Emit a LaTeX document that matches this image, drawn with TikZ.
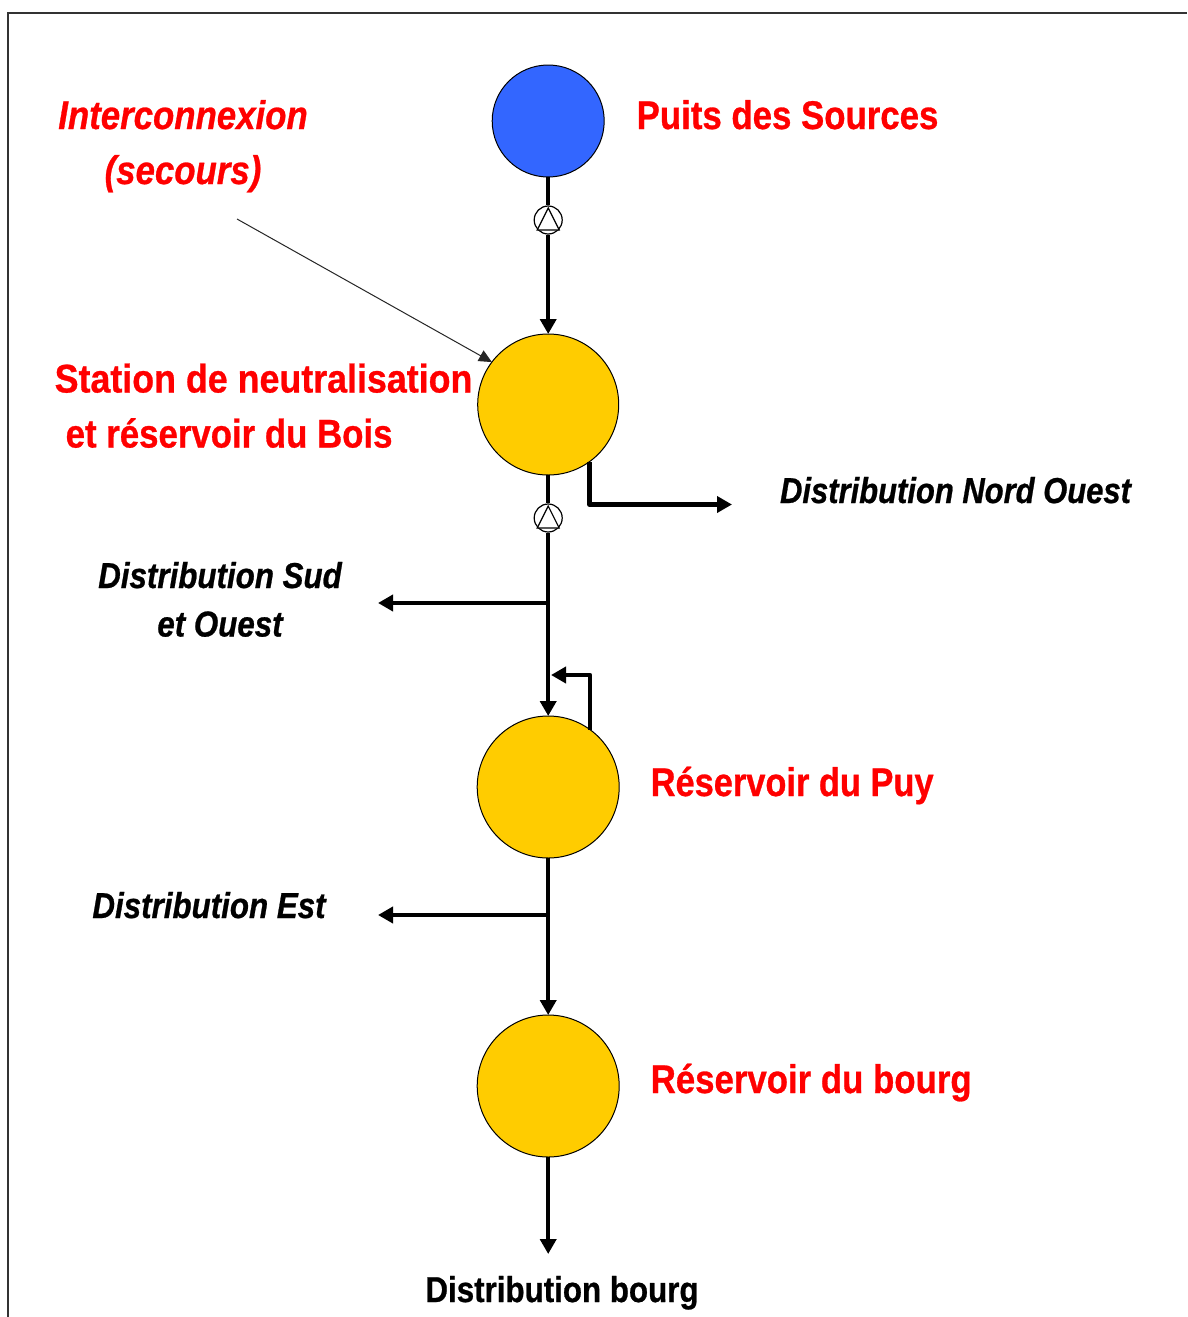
\documentclass[tikz,border=0pt]{standalone}
\usepackage{fontspec}
\usetikzlibrary{arrows.meta}
\setmainfont{Liberation Sans}
\newfontfamily\lblfont[FakeStretch=0.87,FakeBold=0.7]{Liberation Sans}
\newfontfamily\widefont[FakeStretch=0.895,FakeBold=0.7]{Liberation Sans}
\newfontfamily\narrowfont[FakeStretch=0.86,FakeBold=0.7]{Liberation Sans}
\definecolor{srcblue}{HTML}{3366FF}
\definecolor{resorange}{HTML}{FFCC00}
\definecolor{lblred}{HTML}{FF0000}
\tikzset{
  x=1pt,y=-1pt,
  res/.style={circle,draw=black,line width=1pt,fill=resorange,minimum size=142pt,inner sep=0pt,outer sep=0pt},
  src/.style={res,fill=srcblue,minimum size=112pt},
  pump/.style={circle,draw=black,line width=1.2pt,fill=white,minimum size=28pt,inner sep=0pt,outer sep=1pt},
  pumptri/.style={line width=1.2pt,draw=black,fill=white},
  pipe/.style={line width=4.5pt,draw=black,line join=round},
  flow/.style={pipe,-{Triangle[length=15pt,width=16pt]}},
  thin arrow/.style={line width=1pt,draw=black!85,-{Triangle[length=13pt,width=12pt]}},
  redlbl/.style={anchor=base west,inner sep=0pt,text=lblred,font=\lblfont\fontsize{40}{40}\selectfont\bfseries},
  redwide/.style={redlbl,font=\widefont\fontsize{40}{40}\selectfont\bfseries},
  rednarrow/.style={redlbl,font=\narrowfont\fontsize{40}{40}\selectfont\bfseries},
  redit/.style={anchor=base,inner sep=0pt,text=lblred,font=\lblfont\fontsize{40}{40}\selectfont\bfseries\itshape},
  blkit/.style={anchor=base,inner sep=0pt,text=black,font=\lblfont\fontsize{36}{36}\selectfont\bfseries\itshape},
  blkitn/.style={blkit,font=\narrowfont\fontsize{36}{36}\selectfont\bfseries\itshape},
  blk/.style={anchor=base,inner sep=0pt,text=black,font=\lblfont\fontsize{36}{36}\selectfont\bfseries},
}
\begin{document}
\begin{tikzpicture}
\useasboundingbox (0,0) rectangle (1187,1317);
\fill[white] (0,0) rectangle (1187,1317);
\draw[line width=1.5pt,black!80] (8,1317) -- (8,13) -- (1187,13);
% nodes
\node[src] (puits) at (548.2,121) {};
\node[res,minimum size=141pt] (bois) at (548.2,404.5) {};
\node[res] (puy) at (548.2,787) {};
\node[res] (bourg) at (548.2,1086) {};
\node[pump] (p1) at (548.2,220) {};
\node[pump] (p2) at (548.2,518) {};
\draw[pumptri] (548.2,208) -- (559.2,230) -- (537.2,230) -- cycle;
\draw[pumptri] (548.2,506) -- (559.2,528) -- (537.2,528) -- cycle;
% free ends
\coordinate (inter) at (237,219);
\coordinate (no) at (732,504.5);
\coordinate (j1) at (548.2,603);
\coordinate (sud) at (378,603);
\coordinate (ret) at (551,675);
\coordinate (j2) at (548.2,915);
\coordinate (est) at (378,915);
\coordinate (dist) at (548.2,1254);
% connectors
\draw[pipe] (puits) -- (p1);
\draw[flow] (p1) -- (bois);
\draw[pipe] (bois) -- (p2);
\draw[flow] (p2) -- (puy);
\draw[flow] (bois.-54) |- (no);
\draw[flow] (j1) -- (sud);
\draw[flow] (puy.54) |- (ret);
\draw[flow] (puy) -- (bourg);
\draw[flow] (j2) -- (est);
\draw[flow] (bourg) -- (dist);
\draw[thin arrow] (inter) -- (bois.143);
% labels
\node[redlbl] (l1) at (636.5,129) {Puits des Sources};
\node[redit] (l2) at (183,129) {Interconnexion};
\node[redit] (l3) at (183,184) {(secours)};
\node[redwide] (l4) at (54.5,392.5) {Station de neutralisation};
\node[redlbl] (l5) at (65.5,447.5) {et réservoir du Bois};
\node[blkitn] (l6) at (955.5,503) {Distribution Nord Ouest};
\node[blkit] (l7) at (220,588) {Distribution Sud};
\node[blkit] (l8) at (220,636.5) {et Ouest};
\node[rednarrow] (l9) at (650.5,796) {Réservoir du Puy};
\node[blkit] (l10) at (209,918) {Distribution Est};
\node[redlbl] (l11) at (650.5,1093) {Réservoir du bourg};
\node[blk] (l12) at (562,1302) {Distribution bourg};
\end{tikzpicture}
\end{document}
